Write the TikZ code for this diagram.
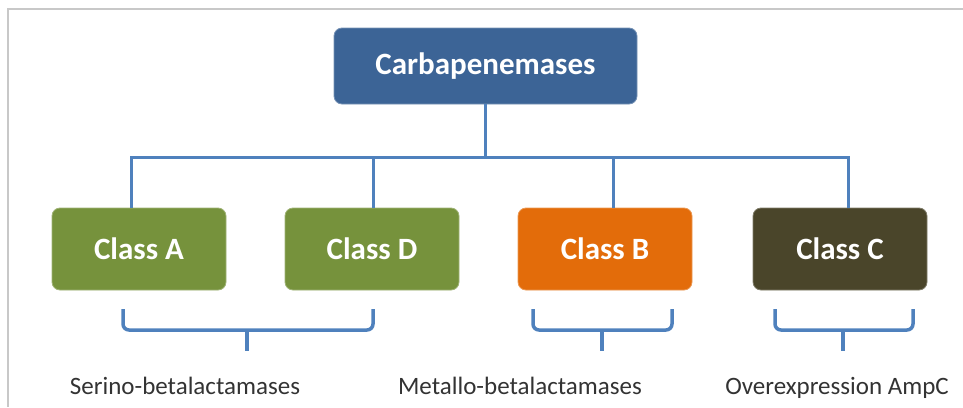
\documentclass[tikz,border=0pt]{standalone}
\usepackage{fontspec}
\setmainfont{Carlito}
\usetikzlibrary{positioning, calc}
\definecolor{cblue}{HTML}{3C6496}
\definecolor{cgreen}{HTML}{76923C}
\definecolor{corange}{HTML}{E36C0A}
\definecolor{cbrown}{HTML}{4A452A}
\definecolor{cline}{HTML}{4F81BD}
\definecolor{cframe}{HTML}{C8C8C8}
\tikzset{
  every picture/.style={line width=2.4pt},
  box/.style={fill=#1, draw=#1!70!white, line width=0.8pt, text=white, rounded corners=8pt,
    align=center, font=\fontsize{31}{34}\selectfont\bfseries},
  box/.default=cgreen,
  link/.style={draw=cline, line width=3pt},
  brace/.style={draw=cline, line width=3.5pt, rounded corners=6pt},
  note/.style={font=\fontsize{25}{28}\selectfont, text=black!80, anchor=base},
}
\begin{document}
\begin{tikzpicture}[x=1pt, y=-1pt,
  cls/.style={box=#1, minimum width=174pt, minimum height=82pt}]
  \useasboundingbox (0,0) rectangle (963,407);
  \draw[cframe, line width=1.5pt] (963,9) -- (8,9) -- (8,407);
  % root and classes
  \node[box=cblue, minimum width=303pt, minimum height=76pt] (root) at (485.5,66) {Carbapenemases};
  \node[cls=cgreen] (ca) at (139,249) {Class A};
  \node[cls=cgreen] (cd) at (372,249) {Class D};
  \node[cls=corange] (cb) at (605,249) {Class B};
  \node[cls=cbrown] (cc) at (840,249) {Class C};
  \coordinate (bus) at (485.5,157);
  \draw[link] (root) -- (bus);
  \draw[link] (bus) -| ([xshift=-8pt]ca.north);
  \draw[link] (bus) -| ([xshift=1pt]cd.north);
  \draw[link] (bus) -| ([xshift=8pt]cb.north);
  \draw[link] (bus) -| ([xshift=8pt]cc.north);
  % brackets
  \draw[brace] (123,309) |- (373,330) -- (373,309);
  \draw[brace] (533,309) |- (672,330) -- (672,309);
  \draw[brace] (775,309) |- (913,330) -- (913,309);
  \coordinate (t1) at (247,351);
  \coordinate (t2) at (602,351);
  \coordinate (t3) at (843,351);
  \draw[brace] (t1 |- 0,330) -- (t1);
  \draw[brace] (t2 |- 0,330) -- (t2);
  \draw[brace] (t3 |- 0,330) -- (t3);
  \node[note] (ser) at (185,394) {Serino-betalactamases};
  \node[note] (met) at (520,394) {Metallo-betalactamases};
  \node[note] (amp) at (837,394) {Overexpression AmpC};
\end{tikzpicture}
\end{document}
